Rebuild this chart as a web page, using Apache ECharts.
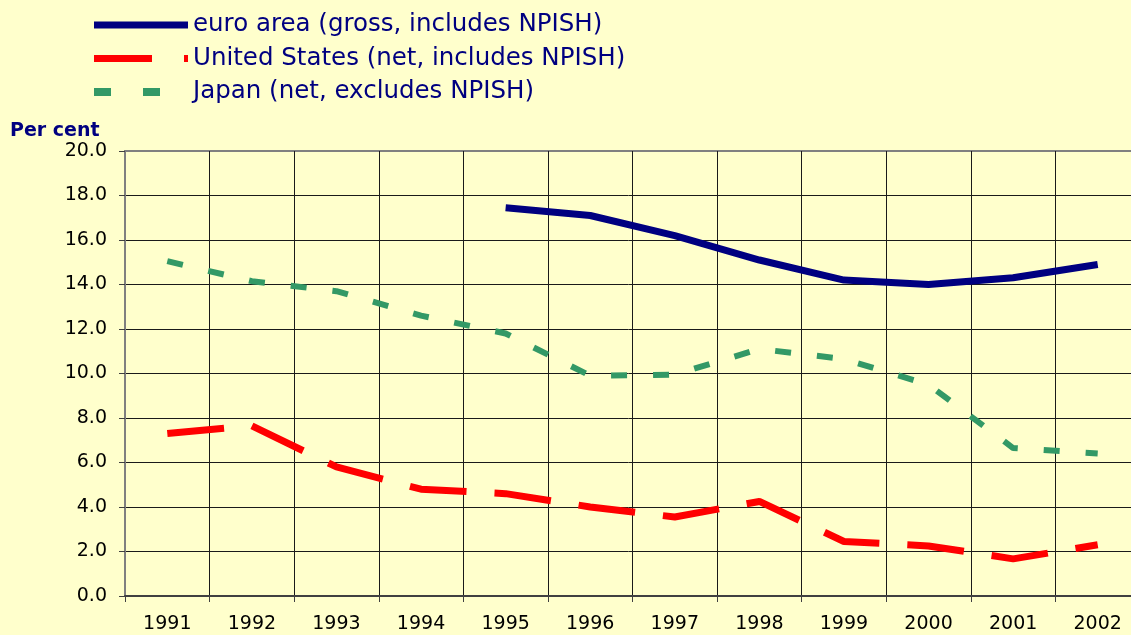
<!DOCTYPE html>
<html>
<head>
<meta charset="utf-8">
<script src="https://cdn.jsdelivr.net/npm/echarts@6/dist/echarts.min.js"></script>
<style>
  html, body { margin: 0; padding: 0; background: #FFFFCC; }
  #main { width: 1131px; height: 635px; }
</style>
</head>
<body>
<div id="main"></div>
<script>
var years = ['1991', '1992', '1993', '1994', '1995', '1996', '1997', '1998', '1999', '2000', '2001', '2002'];
var euroArea = [null, null, null, null, 17.45, 17.1, 16.2, 15.1, 14.2, 14.0, 14.3, 14.9];
var unitedStates = [7.3, 7.65, 5.8, 4.8, 4.6, 4.0, 3.55, 4.25, 2.45, 2.25, 1.67, 2.3];
var japan = [15.05, 14.15, 13.7, 12.6, 11.8, 9.9, 9.95, 11.1, 10.65, 9.5, 6.65, 6.4];
var seriesNames = ['euro area (gross, includes NPISH)', 'United States (net, includes NPISH)', 'Japan (net, excludes NPISH)'];

var navy = '#000080';
var gridColor = '#1a1a1a';
var axisGray = '#808080';
var font = 'DejaVu Sans';

var chart = echarts.init(document.getElementById('main'));

// top gridline is the grey border of the plot in the original
var splitColors = [];
for (var i = 0; i < 10; i++) splitColors.push(gridColor);
splitColors.push(axisGray);

// legend entries: plain line samples, no symbol
var legendLines = [
    { width: 7 },
    { width: 7, type: [58, 32] },
    { width: 8, type: [17, 32] }
];
var legendData = seriesNames.map(function (n, i) {
    return { name: n, itemStyle: { opacity: 0 }, lineStyle: legendLines[i] };
});

var option = {
    backgroundColor: '#FFFFCC',
    animation: false,
    title: {
        text: 'Per cent',
        left: 10,
        top: 122,
        padding: 0,
        textStyle: { fontFamily: font, fontSize: 19, lineHeight: 19, fontWeight: 'bold', color: navy }
    },
    legend: {
        orient: 'vertical',
        left: 90,
        top: 10,
        padding: 0,
        itemWidth: 94,
        itemHeight: 14,
        itemGap: 3.5,
        selectedMode: false,
        data: legendData,
        textStyle: {
            fontFamily: font, fontSize: 24.5, lineHeight: 24, color: navy,
            padding: [6, 0, 0, 0]
        }
    },
    grid: {
        left: 125,
        right: -9,
        top: 151,
        bottom: 39,
        outerBoundsMode: 'none',
        show: true,
        borderColor: axisGray,
        borderWidth: 2,
        backgroundColor: 'transparent'
    },
    xAxis: {
        type: 'category',
        data: years,
        boundaryGap: true,
        axisLine: { lineStyle: { color: '#404040', width: 2 } },
        axisTick: { show: true, length: 6, lineStyle: { color: '#404040' } },
        axisLabel: { fontFamily: font, fontSize: 19, color: '#000', margin: 19 },
        splitLine: { show: true, lineStyle: { color: gridColor, width: 1 } }
    },
    yAxis: {
        type: 'value',
        min: 0,
        max: 20,
        interval: 2,
        axisLine: { show: true, lineStyle: { color: axisGray, width: 2 } },
        axisTick: { show: true, length: 6, lineStyle: { color: '#404040' } },
        axisLabel: {
            fontFamily: font, fontSize: 19, color: '#000', margin: 18,
            formatter: function (v) { return v.toFixed(1); }
        },
        splitLine: { show: true, lineStyle: { color: splitColors, width: 1 } }
    },
    series: [{
        name: seriesNames[0],
        type: 'line',
        data: euroArea,
        symbol: 'none',
        lineStyle: { color: navy, width: 7 },
        itemStyle: { color: navy }
    }, {
        name: seriesNames[1],
        type: 'line',
        data: unitedStates,
        symbol: 'none',
        lineStyle: { color: '#FF0000', width: 7, type: [57, 28] },
        itemStyle: { color: '#FF0000' }
    }, {
        name: seriesNames[2],
        type: 'line',
        data: japan,
        symbol: 'none',
        lineStyle: { color: '#339966', width: 6, type: [16, 26] },
        itemStyle: { color: '#339966' }
    }]
};

chart.setOption(option);
</script>
</body>
</html>
